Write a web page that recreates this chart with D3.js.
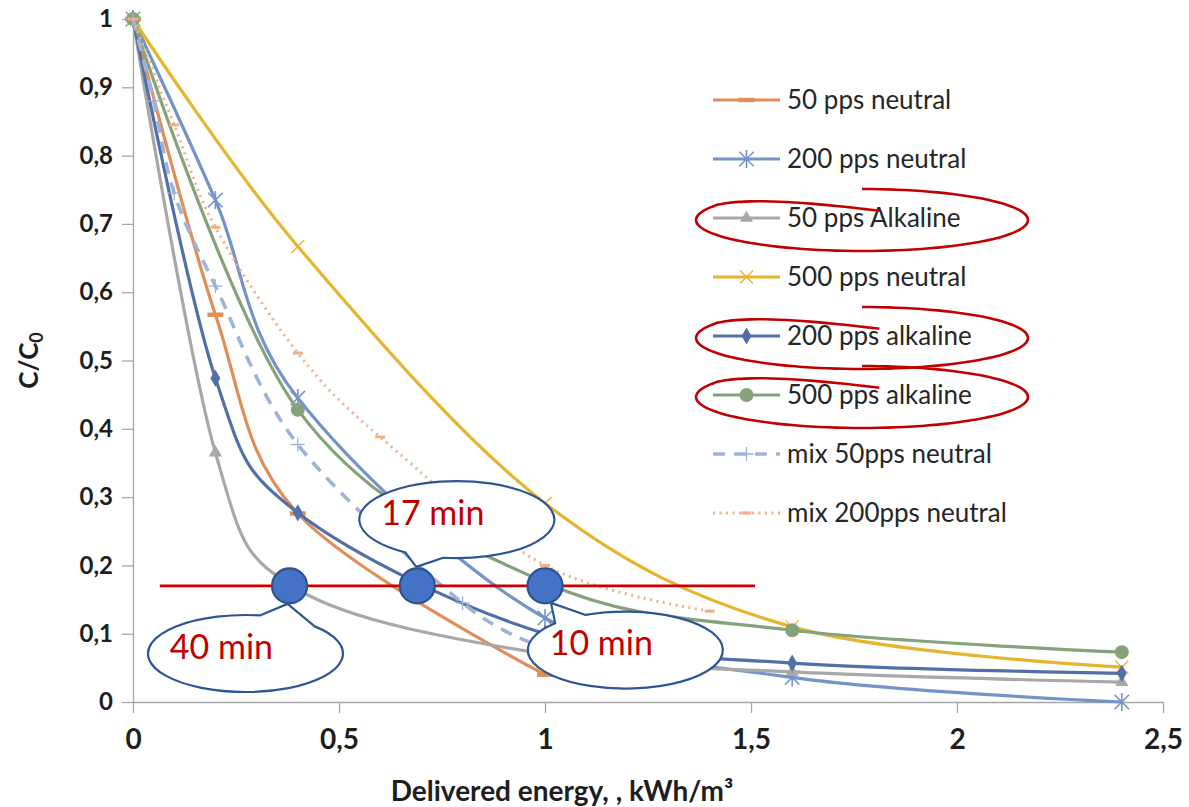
<!DOCTYPE html>
<html>
<head>
<meta charset="utf-8">
<script src="https://cdn.jsdelivr.net/npm/d3@7"></script>
<style>
  body { margin: 0; background: #fff; }
  svg { display: block; font-family: Lato, "Open Sans", sans-serif; }
</style>
</head>
<body>
<svg id="chart" width="1189" height="807"></svg>
<script>
// ---- data -------------------------------------------------------------
const xTickValues = [0, 0.5, 1, 1.5, 2, 2.5];
const xTickLabels = ["0", "0,5", "1", "1,5", "2", "2,5"];
const yTickValues = [0, 0.1, 0.2, 0.3, 0.4, 0.5, 0.6, 0.7, 0.8, 0.9, 1];
const yTickLabels = ["0", "0,1", "0,2", "0,3", "0,4", "0,5", "0,6", "0,7", "0,8", "0,9", "1"];

const seriesNames = ["50 pps neutral", "200 pps neutral", "50 pps Alkaline", "500 pps neutral",
                     "200 pps alkaline", "500 pps alkaline", "mix 50pps neutral", "mix 200pps neutral"];

const energy50Neutral = [0, 0.2, 0.4, 1];
const ratio50Neutral  = [1, 0.567, 0.276, 0.04];

const energy200Neutral = [0, 0.2, 0.4, 1, 1.6, 2.4];
const ratio200Neutral  = [1, 0.735, 0.445, 0.123, 0.036, 0.0];

const energy50Alkaline = [0, 0.2, 0.4, 1, 1.6, 2.4];
const ratio50Alkaline  = [1, 0.365, 0.165, 0.07, 0.044, 0.029];

const energy500Neutral = [0, 0.4, 1, 1.6, 2.4];
const ratio500Neutral  = [1, 0.667, 0.291, 0.11, 0.051];

const energy200Alkaline = [0, 0.2, 0.4, 1, 1.6, 2.4];
const ratio200Alkaline  = [1, 0.474, 0.277, 0.1, 0.057, 0.042];

const energy500Alkaline = [0, 0.4, 1, 1.6, 2.4];
const ratio500Alkaline  = [1, 0.428, 0.175, 0.105, 0.073];

const energyMix50 = [0, 0.05, 0.1, 0.2, 0.4, 0.8, 1];
const ratioMix50  = [1, 0.88, 0.745, 0.609, 0.377, 0.145, 0.08];

const energyMix200 = [0, 0.1, 0.2, 0.4, 0.6, 1, 1.4];
const ratioMix200  = [1, 0.845, 0.695, 0.511, 0.388, 0.2, 0.133];

// Treatment-time annotations: threshold C/C0 and where each curve crosses it
const thresholdRatio = 0.17;
const thresholdSpan = [0.065, 1.51];
const crossingEnergy = [0.38, 0.69, 1.0];
const crossingLabels = ["40 min", "17 min", "10 min"];
const calloutCenterEnergy = [0.273, 0.786, 1.195];
const calloutCenterRatio = [0.071, 0.267, 0.076];

// Legend entries that are circled
const circledSeries = ["50 pps Alkaline", "200 pps alkaline", "500 pps alkaline"];

// ---- styles -----------------------------------------------------------
const styles = {
  "50 pps neutral":     { color: "#e08e58", width: 3.2, dash: null, marker: "dash" },
  "200 pps neutral":    { color: "#7494c8", width: 3.2, dash: null, marker: "star" },
  "50 pps Alkaline":    { color: "#a8a8a8", width: 3.2, dash: null, marker: "triangle" },
  "500 pps neutral":    { color: "#e5b52e", width: 3.2, dash: null, marker: "x" },
  "200 pps alkaline":   { color: "#536fa8", width: 3.2, dash: null, marker: "diamond" },
  "500 pps alkaline":   { color: "#86a27b", width: 3.2, dash: null, marker: "circle" },
  "mix 50pps neutral":  { color: "#9fb3d8", width: 3.6, dash: "12,9", marker: "plus" },
  "mix 200pps neutral": { color: "#f0b08c", width: 3, dash: "2,4.5", marker: "smalldash" }
};

const seriesData = [
  [energy50Neutral, ratio50Neutral],
  [energy200Neutral, ratio200Neutral],
  [energy50Alkaline, ratio50Alkaline],
  [energy500Neutral, ratio500Neutral],
  [energy200Alkaline, ratio200Alkaline],
  [energy500Alkaline, ratio500Alkaline],
  [energyMix50, ratioMix50],
  [energyMix200, ratioMix200]
].map(([xs, ys], i) => ({
  name: seriesNames[i],
  points: xs.map((x, j) => ({ x, y: ys[j] }))
}));

// ---- scales & axes ----------------------------------------------------
const svg = d3.select("#chart");
const x = d3.scaleLinear().domain([0, 2.5]).range([133, 1163]);
const y = d3.scaleLinear().domain([0, 1]).range([702, 19]);
const axisColor = "#a6a6a6";

const yAxis = svg.append("g")
  .attr("transform", `translate(${x(0)},0)`)
  .call(d3.axisLeft(y).tickValues(yTickValues)
    .tickFormat((d, i) => yTickLabels[i]).tickSize(11).tickSizeOuter(0).tickPadding(9));
const xAxis = svg.append("g")
  .attr("transform", `translate(0,${y(0)})`)
  .call(d3.axisBottom(x).tickValues(xTickValues)
    .tickFormat((d, i) => xTickLabels[i]).tickSize(11).tickSizeOuter(0).tickPadding(16));

[yAxis, xAxis].forEach(g => {
  g.select(".domain").attr("stroke", axisColor).attr("stroke-width", 1.3);
  g.selectAll(".tick line").attr("stroke", axisColor).attr("stroke-width", 1.3);
  g.selectAll(".tick text").attr("fill", "#1e1e1e").attr("font-weight", 700)
    .attr("font-family", "Lato, sans-serif");
});
yAxis.selectAll(".tick text").attr("font-size", 24);
xAxis.selectAll(".tick text").attr("font-size", 28);

// Axis titles
const yTitle = svg.append("text")
  .attr("transform", `translate(38,${y(0.5)}) rotate(-90)`)
  .attr("text-anchor", "middle")
  .attr("font-size", 26).attr("font-weight", 700).attr("fill", "#1e1e1e");
yTitle.append("tspan").text("C/C");
yTitle.append("tspan").attr("font-size", 18).attr("dy", 5).text("0");

svg.append("text")
  .attr("x", 562).attr("y", 801)
  .attr("text-anchor", "middle")
  .attr("font-size", 28).attr("font-weight", 700).attr("fill", "#1e1e1e")
  .text("Delivered energy, , kWh/m³");

// ---- markers ----------------------------------------------------------
function drawMarker(g, type, color, cx, cy, scale = 1) {
  const s = scale;
  switch (type) {
    case "dash":
      g.append("rect").attr("x", cx - 8 * s).attr("y", cy - 2.2 * s)
        .attr("width", 16 * s).attr("height", 4.4 * s).attr("fill", color);
      break;
    case "smalldash":
      g.append("rect").attr("x", cx - 5 * s).attr("y", cy - 1.5 * s)
        .attr("width", 10 * s).attr("height", 3 * s).attr("fill", color);
      break;
    case "star": {
      const r = 9 * s;
      const p = d3.path();
      p.moveTo(cx, cy - r); p.lineTo(cx, cy + r);
      p.moveTo(cx - r * 0.8, cy - r * 0.8); p.lineTo(cx + r * 0.8, cy + r * 0.8);
      p.moveTo(cx - r * 0.8, cy + r * 0.8); p.lineTo(cx + r * 0.8, cy - r * 0.8);
      g.append("path").attr("d", p.toString()).attr("stroke", color)
        .attr("stroke-width", 1.6).attr("fill", "none");
      break;
    }
    case "x": {
      const r = 6.5 * s;
      const p = d3.path();
      p.moveTo(cx - r, cy - r); p.lineTo(cx + r, cy + r);
      p.moveTo(cx - r, cy + r); p.lineTo(cx + r, cy - r);
      g.append("path").attr("d", p.toString()).attr("stroke", color)
        .attr("stroke-width", 1.3).attr("fill", "none");
      break;
    }
    case "plus": {
      const r = 7 * s;
      const p = d3.path();
      p.moveTo(cx - r, cy); p.lineTo(cx + r, cy);
      p.moveTo(cx, cy - r); p.lineTo(cx, cy + r);
      g.append("path").attr("d", p.toString()).attr("stroke", color)
        .attr("stroke-width", 1.3).attr("fill", "none");
      break;
    }
    case "triangle":
      g.append("path").attr("d", d3.symbol(d3.symbolTriangle, 75 * s * s)())
        .attr("transform", `translate(${cx},${cy})`).attr("fill", color);
      break;
    case "diamond":
      g.append("path").attr("d", d3.symbol(d3.symbolDiamond, 85 * s * s)())
        .attr("transform", `translate(${cx},${cy})`).attr("fill", color);
      break;
    case "circle":
      g.append("circle").attr("cx", cx).attr("cy", cy).attr("r", 7 * s).attr("fill", color);
      break;
  }
}

// ---- series -----------------------------------------------------------
const line = d3.line().x(d => x(d.x)).y(d => y(d.y)).curve(d3.curveCardinal.tension(0));
const plot = svg.append("g");

seriesData.forEach(s => {
  const st = styles[s.name];
  const g = plot.append("g");
  g.append("path").datum(s.points)
    .attr("d", line)
    .attr("fill", "none")
    .attr("stroke", st.color)
    .attr("stroke-width", st.width)
    .attr("stroke-linecap", st.dash ? "butt" : "round")
    .attr("stroke-dasharray", st.dash);
  s.points.forEach(p => drawMarker(g, st.marker, st.color, x(p.x), y(p.y)));
});

// ---- legend -----------------------------------------------------------
const legend = svg.append("g");
const legendTop = 100, legendStep = 59;
seriesNames.forEach((name, i) => {
  const st = styles[name];
  const ly = legendTop + i * legendStep;
  legend.append("line").attr("x1", 713).attr("x2", 780).attr("y1", ly).attr("y2", ly)
    .attr("stroke", st.color).attr("stroke-width", st.width)
    .attr("stroke-dasharray", st.dash);
  drawMarker(legend, st.marker, st.color, 746.5, ly);
  legend.append("text").attr("x", 787).attr("y", ly).attr("dy", "0.35em")
    .attr("font-size", 26).attr("fill", "#262626").text(name);
});

// Hand-drawn red rings around the alkaline entries
const ringLine = d3.line().curve(d3.curveBasis);
circledSeries.forEach(name => {
  const i = seriesNames.indexOf(name);
  const cy = legendTop + i * legendStep + 2, cx = 862, rx = 166, ry = 31;
  const pts = d3.range(0, 368, 3).map(a => {
    const ryA = a <= 300 ? ry : ry - (ry - 9) * (a - 300) / 67;
    const t = a * Math.PI / 180;
    return [cx + rx * Math.sin(t), cy - ryA * Math.cos(t)];
  });
  legend.append("path").attr("d", ringLine(pts))
    .attr("fill", "none").attr("stroke", "#c00000").attr("stroke-width", 2.6);
});

// ---- annotations ------------------------------------------------------
const ann = svg.append("g");
ann.append("line")
  .attr("x1", x(thresholdSpan[0])).attr("x2", x(thresholdSpan[1]))
  .attr("y1", y(thresholdRatio)).attr("y2", y(thresholdRatio))
  .attr("stroke", "#cc0000").attr("stroke-width", 2.8);

// wedge callouts: [wedge start angle, wedge end angle, tip offset from dot]
const calloutWedges = [
  { t1: -81.5, t2: -44.8, tip: [-2, 18] },
  { t1: 98, t2: 122, tip: [-1, -19] },
  { t1: -136, t2: -114, tip: [6, 17] }
];
const crx = 97.5, cry = 38.5;
crossingEnergy.forEach((e, i) => {
  const cx = x(calloutCenterEnergy[i]), cy = y(calloutCenterRatio[i]);
  const w = calloutWedges[i];
  const pt = a => [cx + crx * Math.cos(a * Math.PI / 180), cy + cry * Math.sin(a * Math.PI / 180)];
  const [ax, ay] = pt(w.t1), [bx, by] = pt(w.t2);
  const tx = x(e) + w.tip[0], ty = y(thresholdRatio) + w.tip[1];
  const d = `M${bx},${by} A${crx},${cry} 0 1 1 ${ax},${ay} L${tx},${ty} Z`;
  ann.append("path").attr("d", d).attr("fill", "#fff")
    .attr("stroke", "#2f5597").attr("stroke-width", 2.2).attr("stroke-linejoin", "round");
  ann.append("text").attr("x", cx - 24).attr("y", cy + 5)
    .attr("text-anchor", "middle").attr("font-size", 34).attr("fill", "#c00000")
    .text(crossingLabels[i]);
});
crossingEnergy.forEach(e => {
  ann.append("circle").attr("cx", x(e)).attr("cy", y(thresholdRatio)).attr("r", 17.5)
    .attr("fill", "#4472c4").attr("stroke", "#2f528f").attr("stroke-width", 2.2);
});
</script>
</body>
</html>
